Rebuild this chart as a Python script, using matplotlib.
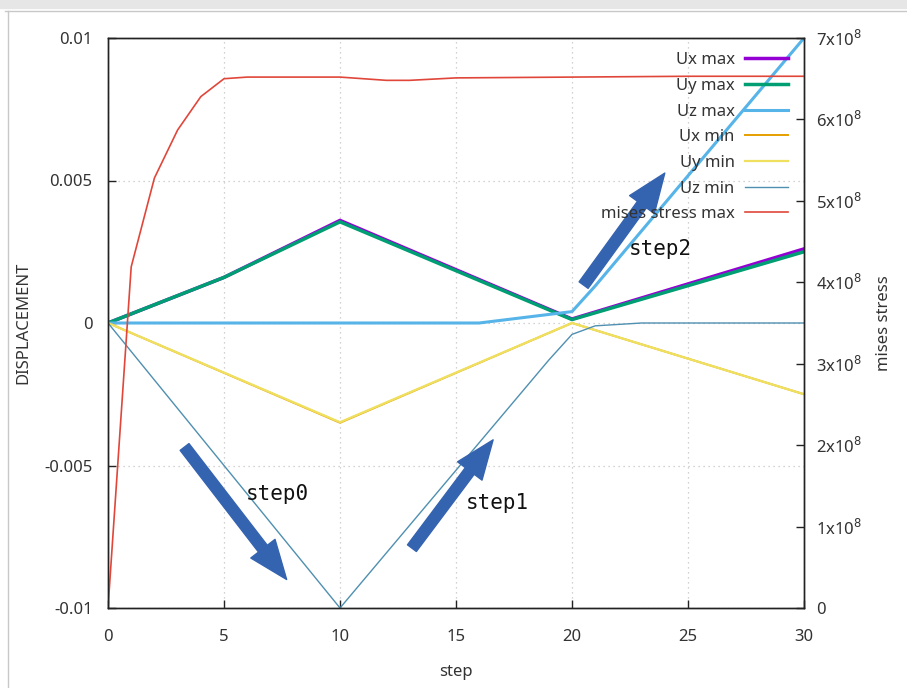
import numpy as np
import matplotlib
matplotlib.use('Agg')
import matplotlib.pyplot as plt
from matplotlib.lines import Line2D


#------------------------------
#values
ux_max_x = [0, 5, 10, 20, 30]
ux_max_y = [0, 0.0016, 0.0036, 0.00014, 0.0026]

uy_max_x = [0, 5, 10, 20, 30]
uy_max_y = [0, 0.0016, 0.00355, 0.00012, 0.0025]

uz_max_x = [0, 16, 17, 18, 19, 20, 21, 30]
uz_max_y = [0, 0, 0.0001, 0.0002, 0.0003, 0.0004, 0.0013, 0.01]

ux_min_x = [0, 10, 20, 30]
ux_min_y = [0, -0.0035, 0.0, -0.0025]

uy_min_x = [0, 10, 20, 30]
uy_min_y = [0, -0.00348, 0.0, -0.0025]

uz_min_x = [0, 10, 19, 20, 21, 23, 30]
uz_min_y = [0, -0.01, -0.0013, -0.0004, -0.0001, 0, 0]

mises_x = [0, 1, 2, 3, 4, 5, 6, 10, 11, 12, 13, 15, 20, 25, 30]
mises_y = [0, 4.19e8, 5.28e8, 5.87e8, 6.28e8, 6.50e8, 6.52e8, 6.52e8,
           6.50e8, 6.48e8, 6.48e8, 6.51e8, 6.52e8, 6.53e8, 6.53e8]

x_ticks = [0, 5, 10, 15, 20, 25, 30]
y_ticks = [-0.01, -0.005, 0, 0.005, 0.01]
y_tick_labels = ['-0.01', '-0.005', '0', '0.005', '0.01']
y2_ticks = [0, 1, 2, 3, 4, 5, 6, 7]

# (label, tail, head, text position) in step / displacement units
notes = [
    ('step0', (3.3, -0.00435), (7.7, -0.0090), (7.3, -0.0060)),
    ('step1', (13.1, -0.0079), (16.6, -0.0041), (16.8, -0.0063)),
    ('step2', (20.5, 0.00133), (24.0, 0.00526), (23.8, 0.0026)),
]


#------------------------------
#style
plt.rcParams['font.family'] = ['Noto Sans', 'DejaVu Sans']
plt.rcParams['font.size'] = 12
txt_col = '#333333'

fig = plt.figure(figsize=(9.07, 6.88), dpi=100)

# screenshot window frame
fig.patches.append(plt.Rectangle((0, 1 - 8 / 688), 1, 8 / 688,
                                 transform=fig.transFigure, color='#e6e6e6', zorder=0))
fig.lines.append(Line2D([5 / 907, 1], [1 - 11 / 688, 1 - 11 / 688],
                        transform=fig.transFigure, color='#c8c8c8', lw=1))
fig.lines.append(Line2D([8 / 907, 8 / 907], [0, 1 - 11 / 688],
                        transform=fig.transFigure, color='#c8c8c8', lw=1))

ax = fig.add_axes([108 / 907, 1 - 608 / 688, 696 / 907, 570 / 688])
ax2 = ax.twinx()

ax.plot(ux_max_x, ux_max_y, color='#9400d3', lw=2.5, label='Ux max')
ax.plot(uy_max_x, uy_max_y, color='#009e73', lw=2.5, label='Uy max')
ax.plot(uz_max_x, uz_max_y, color='#56b4e9', lw=2.2, label='Uz max')
ax.plot(ux_min_x, ux_min_y, color='#e69f00', lw=1.4, label='Ux min')
ax.plot(uy_min_x, uy_min_y, color='#efe060', lw=1.6, label='Uy min')
ax.plot(uz_min_x, uz_min_y, color='#4f8fb0', lw=1.0, label='Uz min')
ax2.plot(mises_x, mises_y, color='#e0473a', lw=1.2, label='mises stress max')

ax.set_xlim(0, 30)
ax.set_ylim(-0.01, 0.01)
ax2.set_ylim(0, 7e8)

ax.set_xticks(x_ticks)
ax.set_yticks(y_ticks)
ax.set_yticklabels(y_tick_labels)
ax2.set_yticks([v * 1e8 for v in y2_ticks])
ax2.set_yticklabels(['0'] + ['%dx10$^{8}$' % v for v in y2_ticks[1:]])

ax.grid(True, color='#c4c4c4', ls=(0, (1, 3)), lw=0.9)
ax.tick_params(direction='in', length=6, width=1, colors='#222222',
               labelcolor=txt_col, pad=15)
ax.tick_params(axis='y', pad=11)
ax2.tick_params(direction='in', length=6, width=1, colors='#222222',
                labelcolor=txt_col, pad=9)
for a in (ax, ax2):
    for s in a.spines.values():
        s.set_color('#222222')
        s.set_linewidth(1)

ax.set_xlabel('step', color=txt_col, labelpad=14)
ax.set_ylabel('DISPLACEMENT', color=txt_col, labelpad=9)
ax2.set_ylabel('mises stress', color=txt_col, labelpad=10)

# legend: text on the left, sample on the right, no frame
h1, l1 = ax.get_legend_handles_labels()
h2, l2 = ax2.get_legend_handles_labels()
leg = ax2.legend(h1 + h2, l1 + l2, loc='upper right', frameon=False,
                 markerfirst=False, bbox_to_anchor=(0.977, 0.975),
                 borderaxespad=0, borderpad=0, handlelength=2.6,
                 handletextpad=0.6, labelspacing=0.58, fontsize=12)
for t in leg.get_texts():
    t.set_color(txt_col)

#------------------------------
#arrows + labels
for label, tail, head, pos in notes:
    ax2.annotate('', xy=ax.transData.transform(head), xycoords='figure pixels',
                 xytext=ax.transData.transform(tail), textcoords='figure pixels',
                 arrowprops=dict(arrowstyle='simple,head_length=2.8,head_width=2.2,tail_width=0.8',
                                 color='#3463b0', mutation_scale=10, shrinkA=0, shrinkB=0))
    ax2.text(*ax2.transData.inverted().transform(ax.transData.transform(pos)), label,
             family='DejaVu Sans Mono', fontsize=15, color='#111111',
             ha='center', va='center')

fig.savefig('out.png', dpi=100)
